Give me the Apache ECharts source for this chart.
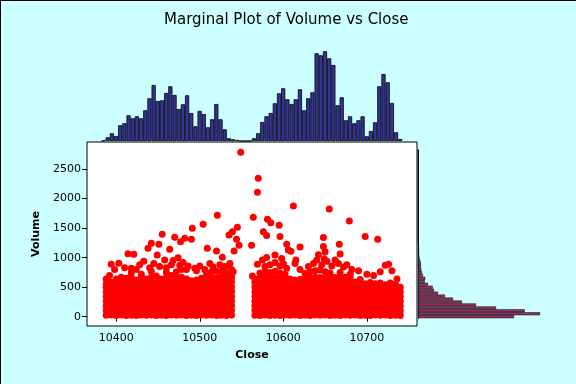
<!DOCTYPE html>
<html><head><meta charset="utf-8">
<script src="https://cdn.jsdelivr.net/npm/echarts@6/dist/echarts.min.js"></script>
<style>html,body{margin:0;padding:0;background:#ccffff}#c{width:576px;height:384px}</style>
</head><body><div id="c"></div>
<script>
// ---- top marginal histogram of Close (bin midpoints, bin width 5) ----
const closeBins = [10385,10390,10395,10400,10405,10410,10415,10420,10425,10430,10435,10440,10445,10450,10455,10460,10465,10470,10475,10480,10485,10490,10495,10500,10505,10510,10515,10520,10525,10530,10535,10540,10545,10550,10555,10560,10565,10570,10575,10580,10585,10590,10595,10600,10605,10610,10615,10620,10625,10630,10635,10640,10645,10650,10655,10660,10665,10670,10675,10680,10685,10690,10695,10700,10705,10710,10715,10720,10725,10730,10735,10740];
const closeFreq = [0.5,3.7,7.7,5,15.7,17.7,25.7,22.7,24.7,22.7,30.7,42.7,56,40,40.7,48,54.7,46,32,36.7,45.7,28,14.7,30,27,13.7,21.7,37,21.7,11.7,2.7,1.7,1,0,0,0,2.7,7.7,19,24.7,28,37.7,47.7,52.7,41.7,37,41.7,51.7,30.7,42.7,48.7,87.7,85.7,89.7,82.7,76,35.7,43.7,20.7,24.7,17.7,20.7,24.7,4.7,10,18.7,54.7,67,58.7,38,8.7,2];

// ---- right marginal histogram of Volume (bin midpoints, bin width 50) ----
const volumeBins = [0,50,100,150,200,250,300,350,400,450,500,550,600,650,700,750,800,850,900,950,1000,1050,1100,1150,1200,1250,1300,1350,1400,1450,1500,1550,1600,1650,1700,1750,1800,1850,1900,1950,2000,2050,2100,2150,2200,2250,2300,2350,2400,2450,2500,2550,2600,2650,2700,2750,2800];
const volumeFreq = [96,122,106.7,78,58,44,35,27,20,16,14.7,10,6.7,7.3,5,4,3.3,3,3,2.3,1.5,1.2,1,1,0.7,0.5,0,0,0,0,0,0,0,0,0,0,0,0,0,0,0,0,0,0,0,0,0,0,0,0,0,0,0,0,0,0,0];

// ---- axis ticks ----
const closeTicks = [10400,10500,10600,10700];
const volumeTicks = [0,500,1000,1500,2000,2500];

// ---- scatter: dense body, listed by Close column ----
const denseColumns = [
 [10388,[24,102,183,261,344,421,498,552]],
 [10394,[30,108,190,270,350,428,505,585]],
 [10400,[20,96,178,258,336,418,496,578,640]],
 [10406,[28,110,186,268,348,426,508,590,668]],
 [10412,[22,100,182,262,340,420,500,582,650]],
 [10418,[26,106,188,266,346,424,506,586,664,740]],
 [10424,[20,98,180,260,342,422,502,580,620]],
 [10430,[30,110,190,270,350,430,510,590,670,720]],
 [10436,[24,102,184,264,344,424,504,584,640]],
 [10442,[28,108,186,268,348,428,508,588,668,770]],
 [10448,[22,100,180,262,340,420,500,580,690]],
 [10454,[26,104,186,266,346,426,506,586,640]],
 [10460,[20,98,178,258,338,418,498,578,658,750]],
 [10466,[30,110,190,270,350,430,510,590,700]],
 [10472,[24,102,182,262,342,422,502,582,662,760]],
 [10478,[28,106,188,268,348,428,508,588,668,800]],
 [10484,[22,100,180,260,340,420,500,580,640]],
 [10490,[26,104,184,264,344,424,504,584,610]],
 [10496,[20,98,178,258,338,418,498,578,620]],
 [10502,[30,108,190,270,350,430,510,590,650]],
 [10508,[24,102,182,262,342,422,502,582,662,730]],
 [10514,[28,106,186,266,346,426,506,586,666,760]],
 [10520,[22,100,180,260,340,420,500,580,660,770]],
 [10526,[26,104,184,264,344,424,504,584,664,750]],
 [10532,[20,98,178,258,338,418,498,578,658,740]],
 [10538,[28,106,186,266,346,426,506,586,666,720]],
 [10566,[24,104,184,264,344,424,504,584,640]],
 [10572,[20,100,180,260,340,420,500,580,660,740]],
 [10578,[28,108,188,268,348,428,508,588,668,760,850]],
 [10584,[22,102,182,262,342,422,502,582,662,750,880]],
 [10590,[26,106,186,266,346,426,506,586,666,770,920]],
 [10596,[20,100,180,260,340,420,500,580,660,740,860]],
 [10602,[30,110,190,270,350,430,510,590,670,720]],
 [10608,[24,104,184,264,344,424,504,584,640]],
 [10614,[28,108,188,268,348,428,508,588,620]],
 [10620,[22,102,182,262,342,422,502,582,630]],
 [10626,[26,106,186,266,346,426,506,586,666,730]],
 [10632,[20,100,180,260,340,420,500,580,660,760]],
 [10638,[30,110,190,270,350,430,510,590,670,780]],
 [10644,[24,104,184,264,344,424,504,584,664,790]],
 [10650,[28,108,188,268,348,428,508,588,668,760]],
 [10656,[22,102,182,262,342,422,502,582,662,740]],
 [10662,[26,106,186,266,346,426,506,586,666]],
 [10668,[20,100,180,260,340,420,500,580,660,750]],
 [10674,[30,110,190,270,350,430,510,590,670]],
 [10680,[24,104,184,264,344,424,504,584,664,720]],
 [10686,[28,108,188,268,348,428,508,588]],
 [10692,[22,102,182,262,342,422,502,582,630]],
 [10698,[26,106,186,266,346,426,506,560]],
 [10704,[20,100,180,260,340,420,500,580]],
 [10710,[30,110,190,270,350,430,510,560]],
 [10716,[24,104,184,264,344,424,504,570]],
 [10722,[28,108,188,268,348,428,508,540]],
 [10728,[22,102,182,262,342,422,502,570]],
 [10734,[26,106,186,266,346,426,506,550]],
 [10740,[20,100,180,260,340,420,500]]
];

// ---- scatter: sparse upper points [Close, Volume] ----
const sparsePoints = [
 [10388,640],[10392,700],[10394,887],[10403,904],[10398,800],[10410,830],[10414,1067],[10421,1056],
 [10418,820],[10424,800],[10428,880],[10433,940],[10438,1158],[10440,830],[10442,1242],[10445,900],
 [10449,1045],[10451,1225],[10452,850],[10455,1395],[10458,960],[10460,830],[10464,1141],[10466,880],
 [10468,950],[10470,1344],[10474,1000],[10476,870],[10477,1270],[10480,920],[10482,1327],[10484,800],
 [10486,860],[10490,1310],[10491,1496],[10494,820],[10496,780],[10500,860],[10504,1564],[10506,800],
 [10509,1158],[10512,900],[10516,840],[10520,1112],[10521,1717],[10524,880],[10527,1005],[10528,820],
 [10530,850],[10534,860],[10535,1383],[10536,900],[10538,800],[10539,1439],[10540,760],[10541,1112],
 [10544,1310],[10545,1513],[10547,1209],[10549,2783],
 [10570,2343],[10569,2106],[10612,1874],[10655,1823],[10564,1683],[10581,1649],[10585,1593],[10595,1548],
 [10679,1620],[10576,1439],[10580,1377],[10596,1360],[10648,1343],[10698,1360],[10713,1310],[10562,1209],
 [10604,1225],[10620,1180],[10606,1130],[10609,1110],[10648,1190],[10667,1225],[10650,1100],[10668,1060],
 [10642,1050],[10569,887],[10563,689],[10726,887],[10722,870],[10615,960],[10614,900],
 [10575,960],[10580,1004],[10590,1045],[10598,987],[10600,900],[10604,820],[10620,800],[10630,850],
 [10636,900],[10640,960],[10646,880],[10649,982],[10652,940],[10658,860],[10662,960],[10666,900],
 [10672,840],[10676,880],[10682,800],[10690,780],[10700,720],[10708,700],[10716,760],[10730,780],[10736,640]
];

const scatterData = [];
denseColumns.forEach(function (col) { col[1].forEach(function (v) { scatterData.push([col[0], v]); }); });
sparsePoints.forEach(function (p) { scatterData.push(p); });

const FONT = 'DejaVu Sans';
const plain = function (v) { return String(v); };
const chart = echarts.init(document.getElementById('c'), null, {renderer: 'canvas'});
chart.setOption({
  animation: false,
  backgroundColor: '#ccffff',
  title: {
    text: 'Marginal Plot of Volume vs Close',
    left: 159, top: 8,
    textStyle: {fontFamily: FONT, fontSize: 15, fontWeight: 'normal', color: '#000'}
  },
  graphic: [
    {type: 'line', shape: {x1: 0, y1: 0.5, x2: 576, y2: 0.5}, style: {stroke: '#000', lineWidth: 1}, silent: true},
    {type: 'line', shape: {x1: 0.5, y1: 0, x2: 0.5, y2: 384}, style: {stroke: '#000', lineWidth: 1}, silent: true}
  ],
  grid: [
    {left: 87, top: 142, width: 330, height: 184, show: true, backgroundColor: '#ffffff', borderColor: '#000', borderWidth: 1},
    {left: 101.4, top: 51, width: 300.9, height: 90},
    {left: 418, top: 149.9, width: 130, height: 168.3}
  ],
  xAxis: [
    {type: 'value', gridIndex: 0, min: 10365, max: 10760,
     axisLine: {show: false}, splitLine: {show: false},
     axisTick: {show: true, length: 5, lineStyle: {color: '#000'}, customValues: closeTicks},
     axisLabel: {color: '#000', fontFamily: FONT, fontSize: 11, margin: 7, customValues: closeTicks, formatter: plain},
     name: 'Close', nameLocation: 'middle', nameGap: 24,
     nameTextStyle: {fontFamily: FONT, fontSize: 11, fontWeight: 'bold', color: '#000'}},
    {type: 'category', gridIndex: 1, data: closeBins, show: false},
    {type: 'value', gridIndex: 2, min: 0, max: 130, show: false}
  ],
  yAxis: [
    {type: 'value', gridIndex: 0, min: -157, max: 2958,
     axisLine: {show: false}, splitLine: {show: false},
     axisTick: {show: true, length: 5, lineStyle: {color: '#000'}, customValues: volumeTicks},
     axisLabel: {color: '#000', fontFamily: FONT, fontSize: 11, margin: 6, customValues: volumeTicks, formatter: plain},
     name: 'Volume', nameLocation: 'middle', nameGap: 40,
     nameTextStyle: {fontFamily: FONT, fontSize: 11, fontWeight: 'bold', color: '#000'}},
    {type: 'value', gridIndex: 1, min: 0, max: 90, show: false},
    {type: 'category', gridIndex: 2, data: volumeBins,
     axisLine: {show: true, lineStyle: {color: '#000', width: 1}},
     axisTick: {show: false}, axisLabel: {show: false}, splitLine: {show: false}}
  ],
  series: [
    {type: 'scatter', xAxisIndex: 0, yAxisIndex: 0, data: scatterData, symbol: 'circle', symbolSize: 7,
     itemStyle: {color: '#ff0000', opacity: 1}, silent: true},
    {type: 'bar', xAxisIndex: 1, yAxisIndex: 1, data: closeFreq, barWidth: '100%', barCategoryGap: '0%',
     itemStyle: {color: '#333399', borderColor: '#000', borderWidth: 0.8}, silent: true},
    {type: 'bar', xAxisIndex: 2, yAxisIndex: 2, data: volumeFreq, barWidth: '100%', barCategoryGap: '0%',
     itemStyle: {color: '#8f355f', borderColor: '#000', borderWidth: 0.5}, silent: true}
  ]
});
</script></body></html>
